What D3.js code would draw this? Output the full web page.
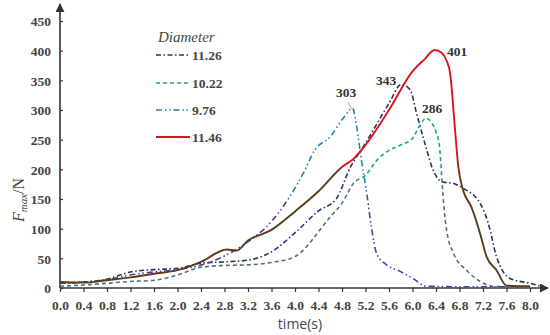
<!DOCTYPE html>
<html>
<head>
<meta charset="utf-8">
<script src="https://cdn.jsdelivr.net/npm/d3@7"></script>
<style>
  body { margin: 0; background: #fff; }
  svg { display: block; }
</style>
</head>
<body>
<svg width="550" height="335"></svg>
<script>
// ---- data ----
var xTicks = [0, 0.4, 0.8, 1.2, 1.6, 2.0, 2.4, 2.8, 3.2, 3.6, 4.0, 4.4, 4.8, 5.2, 5.6, 6.0, 6.4, 6.8, 7.2, 7.6, 8.0];
var yTicks = [0, 50, 100, 150, 200, 250, 300, 350, 400, 450];

var diameters = ["11.26", "10.22", "9.76", "11.46"];

var t1126 = [0, 0.4, 0.8, 1.2, 1.6, 2.0, 2.4, 2.8, 3.2, 3.6, 4.0, 4.4, 4.7, 4.95, 5.2, 5.6, 5.81, 5.96, 6.07, 6.21, 6.35, 6.5, 6.7, 6.86, 7.15, 7.29, 7.43, 7.66, 8.0, 8.22];
var f1126 = [8, 10, 15, 27, 31, 33, 42, 44, 47, 61, 93, 130, 150, 205, 244, 311, 343, 334, 294, 244, 199, 179, 176, 168, 143, 109, 53, 16, 8, 2];

var t1022 = [0, 0.4, 0.8, 1.2, 1.6, 2.0, 2.4, 2.8, 3.2, 3.6, 4.0, 4.2, 4.4, 4.6, 4.8, 5.0, 5.2, 5.4, 5.6, 5.8, 6.0, 6.13, 6.23, 6.33, 6.4, 6.46, 6.5, 6.54, 6.58, 6.7, 6.92, 7.15, 7.37, 7.6];
var f1022 = [3, 5, 8, 11, 13, 22, 35, 38, 39, 43, 53, 70, 95, 120, 143, 177, 190, 216, 232, 241, 252, 275, 286, 278, 263, 238, 182, 131, 98, 58, 30, 11, 3, 2];

var t976 = [0, 0.4, 0.8, 1.2, 1.6, 2.0, 2.41, 2.84, 3.2, 3.6, 3.91, 4.14, 4.34, 4.6, 4.82, 4.98, 5.05, 5.13, 5.22, 5.3, 5.39, 5.56, 5.79, 6.01, 6.24, 7.0, 7.8];
var f976 = [8, 10, 14, 22, 27, 31, 39, 56, 78, 112, 154, 193, 233, 255, 286, 303, 272, 216, 160, 103, 58, 39, 28, 16, 3, 2, 2];

var t1146 = [0, 0.4, 0.8, 1.2, 1.6, 2.0, 2.4, 2.84, 3.0, 3.2, 3.6, 4.0, 4.4, 4.8, 5.0, 5.2, 5.6, 6.0, 6.2, 6.38, 6.5, 6.58, 6.64, 6.72, 6.78, 6.86, 7.0, 7.15, 7.26, 7.43, 7.6, 8.0];
var f1146 = [10, 9, 13, 18, 24, 30, 44, 65, 63, 80, 98, 129, 163, 204, 218, 241, 300, 365, 385, 401, 396, 383, 362, 272, 204, 165, 137, 92, 53, 30, 4, 3];

// peak labels: [time, force]
var peaks = [[4.98, 303], [5.81, 343], [6.23, 286], [6.38, 401]];

var SERIF = "'Liberation Serif', 'DejaVu Serif', serif";

var svg = d3.select("svg");

var x = d3.scaleLinear().domain([0, 8]).range([60, 530]);
var y = d3.scaleLinear().domain([0, 450]).range([288, 21]);

// colour changes along each curve (as in the picture)
var series = [
  { name: diameters[0], t: t1126, f: f1126, width: 1.6, dash: "5,2.5,1.5,2.5", legend: "#26305f",
    stops: [[0, "#2c2f6a"], [1, "#2c2f6a"]] },
  { name: diameters[1], t: t1022, f: f1022, width: 1.6, dash: "4,3", legend: "#1aa978",
    stops: [[0, "#4d7468"], [5.05, "#4d7468"], [5.1, "#1aa978"], [6.48, "#1aa978"], [6.52, "#4e7468"], [8.3, "#4e7468"]] },
  { name: diameters[2], t: t976, f: f976, width: 1.6, dash: "6,3,1.5,2.5,1.5,3", legend: "#1a86b3",
    stops: [[0, "#4b3e98"], [3.85, "#4b3e98"], [3.9, "#1a86b3"], [5.2, "#1a86b3"], [5.25, "#3d46a0"], [8.3, "#3d46a0"]] },
  { name: diameters[3], t: t1146, f: f1146, width: 1.9, dash: null, legend: "#d7141d",
    stops: [[0, "#5a3d1a"], [4.75, "#5a3d1a"], [4.8, "#d7141d"], [6.76, "#d7141d"], [6.8, "#5a3d1a"], [8.3, "#5a3d1a"]] }
];

var defs = svg.append("defs");
var gx0 = x(0), gx1 = x(8.3);
series.forEach(function(s, i) {
  var grad = defs.append("linearGradient")
    .attr("id", "grad" + i)
    .attr("gradientUnits", "userSpaceOnUse")
    .attr("x1", gx0).attr("x2", gx1).attr("y1", 0).attr("y2", 0);
  s.stops.forEach(function(st) {
    grad.append("stop")
      .attr("offset", (x(st[0]) - gx0) / (gx1 - gx0))
      .attr("stop-color", st[1]);
  });
});

defs.append("marker")
  .attr("id", "arrow")
  .attr("viewBox", "0 0 10 10")
  .attr("refX", 9).attr("refY", 5)
  .attr("markerWidth", 9).attr("markerHeight", 9)
  .attr("markerUnits", "userSpaceOnUse")
  .attr("orient", "auto")
  .append("path").attr("d", "M0,0L10,5L0,10z").attr("fill", "#333");

// axes
var xAxis = svg.append("g")
  .attr("transform", "translate(0," + y(0) + ")")
  .call(d3.axisBottom(x).tickValues(xTicks).tickFormat(d3.format(".1f")).tickSize(4).tickSizeOuter(0));
xAxis.select(".domain").remove();
xAxis.selectAll(".tick line").attr("stroke", "#333").attr("stroke-width", 1.2);
xAxis.selectAll(".tick text").attr("dy", null).attr("y", 22);

var yAxis = svg.append("g")
  .attr("transform", "translate(" + x(0) + ",0)")
  .call(d3.axisLeft(y).tickValues(yTicks).tickSize(-3).tickSizeOuter(0));
yAxis.select(".domain").remove();
yAxis.selectAll(".tick line").attr("stroke", "#333").attr("stroke-width", 1.2);
yAxis.selectAll(".tick text").attr("x", -9).attr("dy", "0.36em");

[xAxis, yAxis].forEach(function(g) {
  g.attr("font-family", SERIF).attr("font-size", 13.5).attr("font-weight", "bold");
  g.selectAll(".tick text")
    .style("font-family", SERIF)
    .attr("fill", "#444");
});

svg.append("line")
  .attr("x1", x(0)).attr("x2", 548).attr("y1", y(0)).attr("y2", y(0))
  .attr("stroke", "#333").attr("stroke-width", 1.6).attr("marker-end", "url(#arrow)");
svg.append("line")
  .attr("x1", x(0)).attr("x2", x(0)).attr("y1", y(0)).attr("y2", 4)
  .attr("stroke", "#333").attr("stroke-width", 1.6).attr("marker-end", "url(#arrow)");

// curves
var line = d3.line()
  .x(function(d) { return x(d[0]); })
  .y(function(d) { return y(d[1]); })
  .curve(d3.curveMonotoneX);

series.forEach(function(s, i) {
  var pts = s.t.map(function(t, k) { return [t, s.f[k]]; });
  svg.append("path")
    .datum(pts)
    .attr("fill", "none")
    .attr("stroke", "url(#grad" + i + ")")
    .attr("stroke-width", s.width)
    .attr("stroke-dasharray", s.dash)
    .attr("stroke-linejoin", "round")
    .attr("d", line);
});

// peak labels
var labelPos = [[346, 97], [386, 85], [432, 113], [457, 56]];
peaks.forEach(function(p, i) {
  svg.append("text")
    .style("font-family", SERIF)
    .attr("x", labelPos[i][0]).attr("y", labelPos[i][1])
    .attr("text-anchor", "middle")
    .attr("font-weight", "bold").attr("font-size", "13.5px")
    .attr("fill", "#333")
    .text(p[1]);
});
svg.append("line")
  .attr("x1", 348).attr("y1", 102).attr("x2", x(peaks[0][0]) - 1).attr("y2", y(peaks[0][1]) + 1)
  .attr("stroke", "#aaa").attr("stroke-width", 1);

// legend
var legend = svg.append("g");
legend.append("text")
  .style("font-family", SERIF)
  .attr("x", 158).attr("y", 42)
  .attr("font-style", "italic").attr("font-size", "15px")
  .attr("fill", "#444")
  .text("Diameter");
var rowY = [55, 83, 110, 137];
series.forEach(function(s, i) {
  legend.append("line")
    .attr("x1", 156).attr("x2", 190).attr("y1", rowY[i]).attr("y2", rowY[i])
    .attr("stroke", s.legend).attr("stroke-width", s.width)
    .attr("stroke-dasharray", s.dash);
  legend.append("text")
    .style("font-family", SERIF)
    .attr("x", 192).attr("y", rowY[i] + 4.5)
    .attr("font-weight", "bold").attr("font-size", "13.5px")
    .attr("fill", "#444")
    .text(s.name);
});

// axis titles
svg.append("text")
  .attr("x", 300).attr("y", 329)
  .attr("text-anchor", "middle")
  .attr("font-family", "Open Sans, sans-serif")
  .attr("font-size", "14px")
  .attr("fill", "#444")
  .text("time(s)");

var yt = svg.append("text")
  .style("font-family", SERIF)
  .attr("transform", "translate(24,200) rotate(-90)")
  .attr("text-anchor", "middle")
  .attr("font-size", "16px")
  .attr("fill", "#444");
yt.append("tspan").attr("font-style", "italic").text("F");
yt.append("tspan").attr("font-style", "italic").attr("font-size", "11px").attr("dy", 3).text("max");
yt.append("tspan").attr("dy", -3).text("/N");
</script>
</body>
</html>
